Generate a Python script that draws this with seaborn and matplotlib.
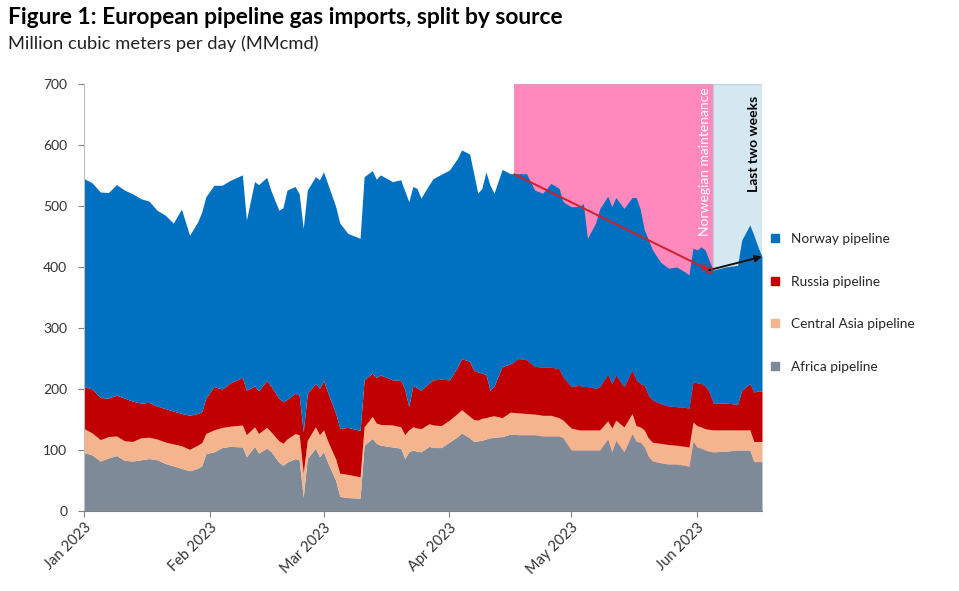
import matplotlib
matplotlib.use("Agg")
import matplotlib.pyplot as plt
from matplotlib.lines import Line2D
import numpy as np
import pandas as pd
import seaborn as sns

# ---- data (MMcmd); day = days since 1 Jan 2023 ----
day = [0, 2, 4, 6, 8, 10, 12, 14, 16, 18,
       20, 22, 24, 26, 28, 29, 30, 32, 34, 36,
       39, 40, 42, 43, 45, 46, 48, 49, 50, 52,
       53, 54, 55, 57, 58, 59, 60, 62, 63, 65,
       68, 69, 71, 72, 73, 76, 78, 79, 80, 81,
       82, 83, 85, 86, 88, 90, 92, 93, 95, 96,
       97, 98, 99, 100, 101, 103, 105, 107, 109, 111,
       113, 115, 117, 118, 120, 122, 123, 124, 126, 127,
       129, 130, 131, 133, 135, 136, 137, 138, 139, 140,
       142, 144, 146, 148, 149, 150, 151, 152, 153, 154,
       155, 158, 161, 162, 164, 165, 166, 167]

africa = [96, 92, 82, 87, 91, 83, 82, 84, 86, 84,
          78, 74, 70, 66, 70, 74, 94, 97, 104, 106,
          105, 89, 106, 95, 103, 98, 80, 75, 80, 86,
          84, 23, 86, 103, 89, 97, 80, 50, 24, 22,
          21, 108, 119, 111, 108, 105, 103, 86, 97, 100,
          98, 97, 106, 104, 104, 113, 122, 128, 120, 114,
          115, 116, 118, 120, 121, 122, 126, 125, 125, 125,
          123, 123, 123, 120, 100, 100, 100, 100, 100, 100,
          118, 97, 116, 97, 127, 114, 113, 105, 90, 82,
          79, 77, 77, 75, 73, 114, 105, 103, 100, 98,
          97, 98, 100, 100, 100, 81, 81, 81]

central_asia = [39, 36, 35, 35, 32, 32, 32, 36, 35, 34,
                35, 36, 37, 35, 38, 38, 33, 36, 33, 33,
                36, 36, 32, 32, 34, 32, 35, 36, 38, 41,
                41, 39, 30, 35, 36, 36, 35, 35, 38, 38,
                35, 30, 36, 33, 34, 36, 35, 39, 36, 38,
                38, 38, 37, 37, 36, 36, 38, 38, 35, 36,
                34, 36, 35, 35, 35, 31, 36, 36, 35, 34,
                34, 34, 30, 29, 36, 33, 33, 33, 33, 33,
                30, 39, 33, 41, 33, 26, 25, 28, 30, 31,
                32, 32, 31, 31, 32, 32, 35, 35, 35, 36,
                36, 35, 33, 33, 33, 33, 33, 33]

russia = [69, 72, 69, 63, 67, 70, 66, 57, 57, 54,
          55, 54, 53, 56, 52, 51, 58, 71, 63, 71,
          78, 73, 67, 70, 77, 75, 70, 68, 65, 66,
          65, 68, 77, 71, 76, 81, 80, 75, 74, 77,
          76, 77, 71, 75, 81, 74, 76, 75, 38, 68,
          66, 63, 67, 74, 76, 66, 76, 84, 90, 81,
          79, 74, 71, 43, 49, 84, 79, 89, 88, 78,
          79, 79, 80, 71, 68, 73, 71, 71, 68, 71,
          76, 73, 74, 66, 71, 75, 71, 73, 70, 69,
          65, 63, 63, 64, 63, 66, 70, 71, 70, 61,
          44, 44, 42, 65, 76, 81, 83, 82]

norway = [341, 338, 337, 337, 345, 341, 340, 335, 330, 321,
          317, 308, 335, 295, 314, 327, 330, 330, 334, 332,
          332, 279, 335, 338, 333, 321, 308, 318, 343, 339,
          330, 333, 333, 339, 342, 342, 342, 339, 336, 318,
          315, 333, 332, 325, 328, 325, 329, 325, 336, 326,
          327, 315, 325, 330, 336, 344, 342, 342, 340, 322,
          293, 303, 332, 336, 316, 323, 312, 303, 305, 289,
          285, 301, 296, 287, 295, 293, 300, 243, 271, 291,
          292, 290, 291, 292, 283, 299, 286, 255, 255, 246,
          232, 226, 229, 222, 219, 219, 218, 224, 223, 215,
          218, 223, 228, 246, 260, 257, 236, 221]

series_names = ["Africa pipeline", "Central Asia pipeline", "Russia pipeline", "Norway pipeline"]
series_colors = ["#7F8A99", "#F4B58E", "#C00000", "#0070C0"]

maint_period = ("2023-04-17", "2023-06-05")
last_two_weeks = ("2023-06-05", "2023-06-17")
trend_maint = (("2023-04-17", 552), ("2023-06-04", 395))
trend_last = (("2023-06-04", 395), ("2023-06-17", 417))

x_ticks = ["2023-01-01", "2023-02-01", "2023-03-01", "2023-04-01", "2023-05-01", "2023-06-01"]
x_tick_labels = ["Jan 2023", "Feb 2023", "Mar 2023", "Apr 2023", "May 2023", "Jun 2023"]
y_ticks = [0, 100, 200, 300, 400, 500, 600, 700]

# ---- build table ----
dates = pd.Timestamp("2023-01-01") + pd.to_timedelta(day, unit="D")
df = pd.DataFrame({
    "date": dates,
    "Africa pipeline": africa,
    "Central Asia pipeline": central_asia,
    "Russia pipeline": russia,
    "Norway pipeline": norway,
})

sns.set_theme(style="white")
plt.rcParams["font.family"] = ["Lato", "DejaVu Sans"]

fig = plt.figure(figsize=(9.59, 5.91), dpi=100)
ax = fig.add_axes([84 / 959, 1 - 511 / 591, (762 - 84) / 959, (511 - 84) / 591])

ts = lambda s: pd.Timestamp(s)

# shaded periods
ax.axvspan(ts(maint_period[0]), ts(maint_period[1]), ymin=0, ymax=1,
           facecolor="#FF88BC", edgecolor="#E79BB8", lw=0.8, zorder=0)
ax.axvspan(ts(last_two_weeks[0]), ts(last_two_weeks[1]), ymin=0, ymax=1,
           facecolor="#D5E7F0", edgecolor="#BCD3E2", lw=0.8, zorder=0)

ax.stackplot(df["date"], [df[n] for n in series_names], colors=series_colors,
             labels=series_names, lw=0, zorder=2)

# trend arrows
(p0, v0), (p1, v1) = trend_maint
ax.annotate("", xy=(ts(p1), v1), xytext=(ts(p0), v0),
            arrowprops=dict(arrowstyle="-|>", color="#D0202A", lw=1.4,
                            mutation_scale=8, shrinkA=0, shrinkB=0), zorder=5)
ax.plot([ts(p1)], [v1], marker="o", ms=4, mfc="none", mec="#D0202A", mew=1.2, zorder=6)
(q0, w0), (q1, w1) = trend_last
ax.annotate("", xy=(ts(q1), w1), xytext=(ts(q0), w0),
            arrowprops=dict(arrowstyle="-|>", color="#111111", lw=1.4,
                            mutation_scale=10, shrinkA=0, shrinkB=0), zorder=5)

# period labels
ax.text(ts("2023-06-03"), 694, "Norwegian maintenance", rotation=90, color="white",
        ha="center", va="top", fontsize=10, zorder=7)
ax.text(ts("2023-06-15"), 680, "Last two weeks", rotation=90, color="black",
        ha="center", va="top", fontsize=10, fontweight="bold", zorder=7)

# axes
ax.set_xlim(ts("2023-01-01"), ts("2023-06-17"))
ax.set_ylim(0, 700)
ax.set_yticks(y_ticks)
ax.set_yticklabels([str(v) for v in y_ticks], fontsize=10, color="#333333")
ax.set_xticks([ts(t) for t in x_ticks])
ax.set_xticklabels(x_tick_labels, rotation=45, ha="right", rotation_mode="anchor",
                   fontsize=10.5, color="#333333")
ax.tick_params(axis="both", which="both", length=4, width=0.8, color="#808080",
               direction="out", left=True, bottom=True, pad=3)
ax.tick_params(axis="y", pad=8)
sns.despine(ax=ax, top=True, right=True)
ax.spines["left"].set_color("#BFBFBF")
ax.spines["bottom"].set_color("#808080")
ax.spines["left"].set_linewidth(0.8)
ax.spines["bottom"].set_linewidth(0.8)
ax.set_xlabel("")
ax.set_ylabel("")

# legend (Norway first, as in the reference)
handles = [Line2D([0], [0], marker="s", linestyle="none", markersize=5.5,
                  markerfacecolor=c, markeredgecolor=c)
           for c in series_colors[::-1]]
fig.legend(handles, series_names[::-1], loc="upper left",
           bbox_to_anchor=(768 / 959, 1 - 233 / 591), frameon=False,
           fontsize=9.8, labelspacing=2.25, handletextpad=0.7, handlelength=1.0,
           borderaxespad=0, borderpad=0)

# titles
fig.text(8 / 959, 1 - 18 / 591, "Figure 1: European pipeline gas imports, split by source",
         fontsize=16.4, fontweight="bold", va="center", ha="left", color="black")
fig.text(8 / 959, 1 - 44 / 591, "Million cubic meters per day (MMcmd)",
         fontsize=13.2, va="center", ha="left", color="#222222")

fig.savefig("out.png", dpi=100, facecolor="white")
